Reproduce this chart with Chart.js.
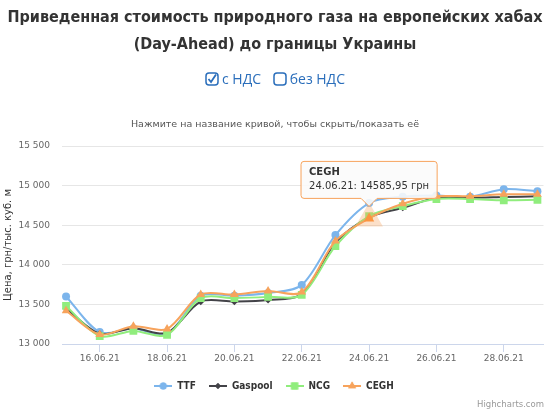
<!DOCTYPE html>
<html>
<head>
<meta charset="utf-8">
<script src="https://cdn.jsdelivr.net/npm/chart.js@4/dist/chart.umd.min.js"></script>
<style>
  html, body { margin: 0; padding: 0; background: #fff; }
  #wrap { position: relative; width: 550px; height: 412px; overflow: hidden; }
  #chart { position: absolute; left: 0; top: 0; }
  .title {
    position: absolute; left: 0; width: 550px; text-align: center;
    font-family: "DejaVu Sans Condensed", "DejaVu Sans", sans-serif;
    font-weight: bold; font-size: 16px; color: #333; white-space: nowrap;
  }
  #vat {
    position: absolute; top: 69px; left: 0; width: 550px; text-align: center;
    font-family: "Open Sans", sans-serif; font-size: 14px; color: #2a6ebb;
  }
  #vat span { display: inline-block; margin: 0 4px; }
  #vat svg { vertical-align: -2px; margin-right: 3px; }
  #hint {
    position: absolute; top: 118px; left: 0; width: 550px; text-align: center;
    font-family: "DejaVu Sans", sans-serif; font-size: 9.5px; color: #555;
  }
  #credit {
    position: absolute; right: 6px; top: 399px;
    font-family: "DejaVu Sans", sans-serif; font-size: 8.5px; color: #999;
  }
</style>
</head>
<body>
<div id="wrap">
  <canvas id="chart" width="550" height="412"></canvas>
  <div class="title" style="top:7px">Приведенная стоимость природного газа на европейских хабах</div>
  <div class="title" style="top:34px">(Day-Ahead) до границы Украины</div>
  <div id="vat">
    <span><svg width="14" height="14" viewBox="0 0 14 14"><rect x="1" y="1" width="12" height="12" rx="3" fill="none" stroke="#2a6ebb" stroke-width="1.5"/><path d="M3.5 7 L6 10 L11 2.5" fill="none" stroke="#2a6ebb" stroke-width="1.8"/></svg>с НДС</span>
    <span><svg width="14" height="14" viewBox="0 0 14 14"><rect x="1" y="1" width="12" height="12" rx="3" fill="none" stroke="#2a6ebb" stroke-width="1.5"/></svg>без НДС</span>
  </div>
  <div id="hint">Нажмите на название кривой, чтобы скрыть/показать её</div>
  <div id="credit">Highcharts.com</div>
</div>

<script>
// dates on the x axis
const dates = ['15.06.21', '16.06.21', '17.06.21', '18.06.21', '19.06.21', '20.06.21', '21.06.21',
  '22.06.21', '23.06.21', '24.06.21', '25.06.21', '26.06.21', '27.06.21', '28.06.21', '29.06.21'];

// prices, UAH per thousand m3
const ttf     = [13600, 13150, 13195, 13125, 13610, 13610, 13645, 13745, 14375, 14780, 14860, 14875, 14860, 14955, 14930];
const gaspool = [13450, 13130, 13200, 13140, 13535, 13535, 13555, 13630, 14280, 14600, 14720, 14845, 14845, 14855, 14865];
const ncg     = [13480, 13100, 13165, 13115, 13580, 13580, 13595, 13620, 14235, 14615, 14740, 14830, 14830, 14815, 14820];
const cegh    = [13420, 13120, 13225, 13190, 13625, 13625, 13670, 13655, 14300, 14585.95, 14770, 14865, 14865, 14890, 14890];

const yTicks = [13000, 13500, 14000, 14500, 15000, 15500];

const seriesNames = ['TTF', 'Gaspool', 'NCG', 'CEGH'];
const seriesValues = [ttf, gaspool, ncg, cegh];
const colors = ['#7cb5ec', '#434348', '#90ed7d', '#f7a35c'];
const shapes = ['circle', 'rectRot', 'rect', 'triangle'];
const radii = [4, 3.5, 5.5, 5];

const fmtThousands = v => String(v).replace(/\B(?=(\d{3})+(?!\d))/g, ' ');

// small legend icon: line with the marker in the middle
function legendIcon(color, shape, r) {
  const c = document.createElement('canvas');
  c.width = 18; c.height = 10;
  const g = c.getContext('2d');
  g.strokeStyle = color; g.fillStyle = color; g.lineWidth = 2;
  g.beginPath(); g.moveTo(0, 5); g.lineTo(18, 5); g.stroke();
  Chart.helpers.drawPoint(g, { pointStyle: shape, radius: r, borderWidth: 0 }, 9, 5);
  g.fill();
  return c;
}

const datasets = seriesNames.map((name, i) => ({
  label: name,
  data: seriesValues[i].map((v, k) => ({ x: k, y: v })),
  borderColor: colors[i],
  backgroundColor: colors[i],
  borderWidth: 2,
  tension: 0.3,
  pointStyle: shapes[i],
  pointRadius: radii[i],
  pointBorderWidth: 0,
  pointHoverRadius: radii[i] + 1,
  pointHoverBorderWidth: 10,
  pointHoverBorderColor: colors[i] + '55',
  order: 4 - i,
  legendIcon: legendIcon(colors[i], shapes[i], radii[i] - 0.5)
}));

const chart = new Chart(document.getElementById('chart'), {
  type: 'line',
  data: { datasets },
  options: {
    responsive: false,
    animation: false,
    events: [],
    layout: { padding: { top: 146, right: 2, bottom: 11, left: 0 } },
    scales: {
      x: {
        type: 'linear',
        min: -0.12,
        max: 14.18,
        ticks: {
          stepSize: 1,
          includeBounds: false,
          autoSkip: false,
          maxRotation: 0,
          padding: 1,
          color: '#666',
          font: { family: 'DejaVu Sans', size: 9 },
          callback: v => (Number.isInteger(v) && v % 2 === 1) ? dates[v] : ''
        },
        grid: {
          drawOnChartArea: false,
          drawTicks: true,
          tickLength: 8,
          color: ctx => (ctx.tick && ctx.tick.value % 2 === 1) ? '#ccd6eb' : 'rgba(0,0,0,0)'
        },
        border: { display: true, color: '#ccd6eb' },
        afterFit: s => { s.height = 24; }
      },
      y: {
        min: yTicks[0],
        max: yTicks[yTicks.length - 1],
        ticks: {
          stepSize: 500,
          padding: 12,
          color: '#666',
          font: { family: 'DejaVu Sans', size: 9 },
          callback: v => fmtThousands(v)
        },
        grid: { color: '#e6e6e6', drawTicks: false },
        border: { display: false },
        title: {
          display: true,
          text: 'Цена, грн/тыс. куб. м',
          color: '#333',
          font: { family: 'DejaVu Sans', size: 10 },
          padding: { top: 2, bottom: 0 }
        },
        afterFit: s => { s.width = 62; }
      }
    },
    plugins: {
      legend: {
        position: 'bottom',
        labels: {
          usePointStyle: true,
          pointStyleWidth: 18,
          boxHeight: 10,
          padding: 13,
          color: '#333',
          font: { family: '"DejaVu Sans Condensed", "DejaVu Sans"', size: 10, weight: 'bold' },
          sort: (a, b) => a.datasetIndex - b.datasetIndex,
          generateLabels: ch => ch.data.datasets.map((d, i) => ({
            text: d.label,
            fillStyle: d.borderColor,
            strokeStyle: d.borderColor,
            fontColor: '#333',
            lineWidth: 0,
            pointStyle: d.legendIcon,
            datasetIndex: i,
            hidden: false
          }))
        }
      },
      tooltip: {
        enabled: true,
        backgroundColor: 'rgba(250,250,250,0.88)',
        borderColor: '#f7a35c',
        borderWidth: 1,
        cornerRadius: 3,
        padding: { top: 5, bottom: 6, left: 8, right: 8 },
        caretSize: 8,
        caretPadding: 12,
        yAlign: 'bottom',
        xAlign: 'center',
        displayColors: false,
        titleColor: '#333',
        bodyColor: '#333',
        titleFont: { family: 'DejaVu Sans', size: 10, weight: 'bold' },
        bodyFont: { family: 'DejaVu Sans', size: 10 },
        titleMarginBottom: 2,
        callbacks: {
          title: items => items[0].dataset.label,
          label: item => dates[item.parsed.x] + ': ' + String(item.parsed.y).replace('.', ',') + ' грн'
        }
      }
    }
  }
});

// show the hovered CEGH point for 24.06.21, as in the screenshot
const active = [{ datasetIndex: 3, index: 9 }];
chart.setActiveElements(active);
const pt = chart.getDatasetMeta(3).data[9];
chart.tooltip.setActiveElements(active, { x: pt.x, y: pt.y });
chart.update();
</script>
</body>
</html>
